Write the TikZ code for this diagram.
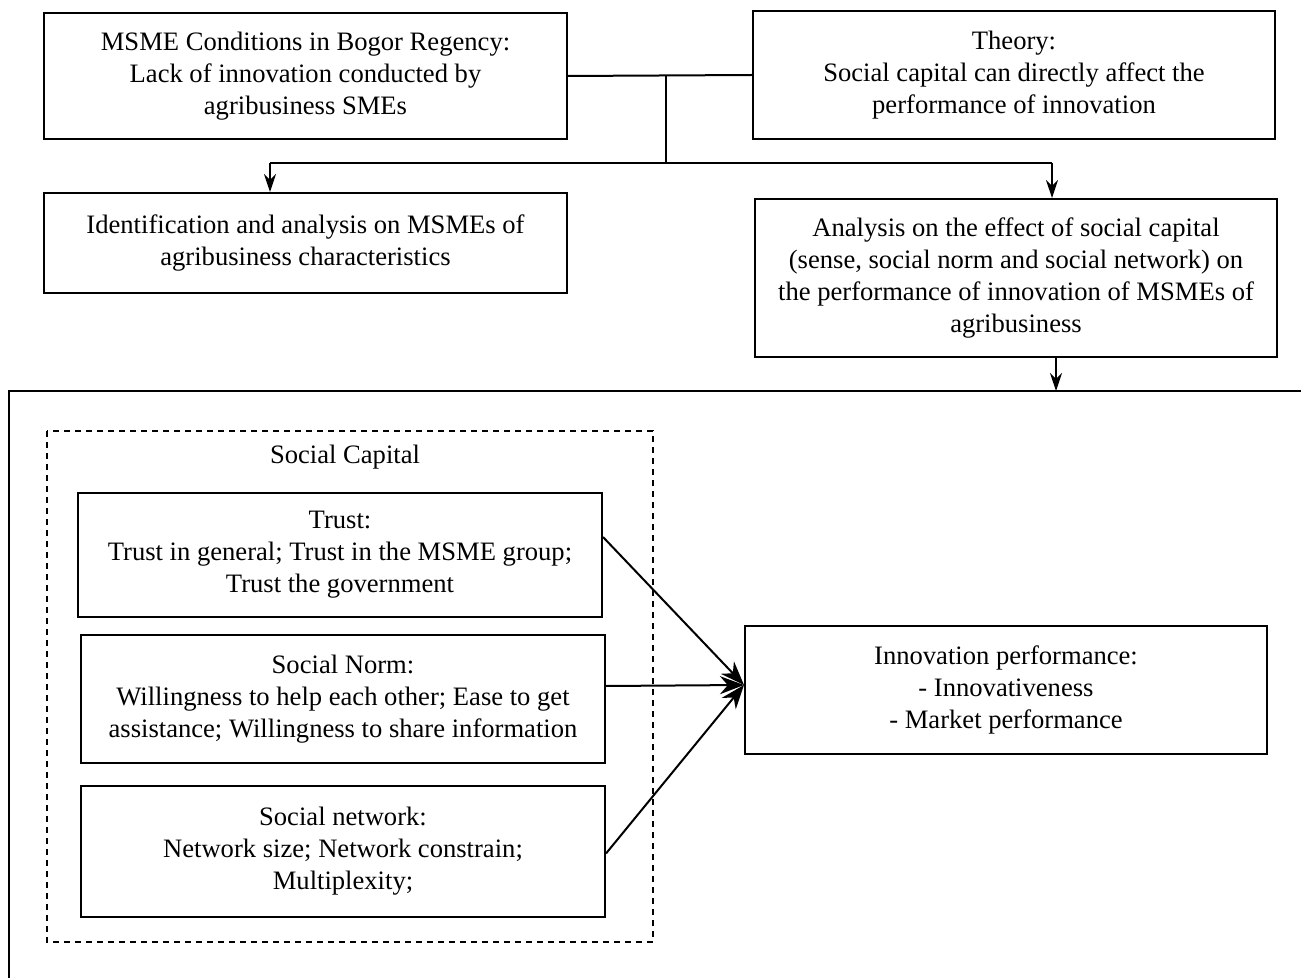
\documentclass[tikz,border=0pt]{standalone}
\usepackage{fontspec}
\setmainfont{Liberation Serif}
\usetikzlibrary{arrows.meta,calc}
\begin{document}
\begin{tikzpicture}[x=0.5pt,y=-0.5pt,
  box/.style={draw, line width=1pt, inner sep=0pt, align=center,
    font=\fontsize{13.3}{16}\selectfont},
  conn/.style={line width=1pt},
  smallarr/.style={line width=1pt, -{Stealth[length=9pt,width=6pt]}},
  bigarr/.style={line width=1pt, -{Stealth[length=12pt,width=9pt]}},
  dotbox/.style={draw, line width=1pt, dash pattern=on 3pt off 2.5pt},
  lbl/.style={font=\fontsize{13.3}{16}\selectfont, inner sep=0pt}]
\useasboundingbox (0,0) rectangle (1301,978);
% top boxes
\node[box, minimum width=261.5pt, minimum height=63pt] (m1) at (305.5,76)
  {MSME Conditions in Bogor Regency:\\Lack of innovation conducted by\\agribusiness SMEs};
\node[box, minimum width=261pt, minimum height=64pt] (theory) at (1014,75)
  {Theory:\\Social capital can directly affect the\\performance of innovation};
\node[box, minimum width=261.5pt, minimum height=50pt] (id) at (305.5,243)
  {Identification and analysis on MSMEs of\\agribusiness characteristics};
\node[box, minimum width=261pt, minimum height=79pt] (ana) at (1016,278)
  {Analysis on the effect of social capital\\(sense, social norm and social network) on\\the performance of innovation of MSMEs of\\agribusiness};
% connectors top
\coordinate (j1) at (666,76);
\coordinate (j2) at (666,163);
\coordinate (a1) at (270,163);
\coordinate (a2) at (1052,163);
\draw[conn] (m1.east) -- (theory.west);
\draw[conn] (j1) -- (j2);
\draw[conn] (a1) -- (a2);
\draw[smallarr] (a1) -- (a1 |- id.north);
\draw[smallarr] (a2) -- (a2 |- ana.north);
% big open frame
\coordinate (bt) at (1056,391);
\coordinate (fr) at (1301,391);
\coordinate (fl) at (9,391);
\coordinate (fb) at (9,978);
\draw[conn] (fr) -- (fl) -- (fb);
\draw[smallarr] (bt |- ana.south) -- (bt);
% social capital
\draw[dotbox] (47,431) rectangle (653,942);
\node[lbl] (sc) at (345,457) {Social Capital};
\node[box, minimum width=262pt, minimum height=62pt] (trust) at (340,555)
  {Trust:\\Trust in general; Trust in the MSME group;\\Trust the government};
\node[box, minimum width=262pt, minimum height=64pt] (norm) at (343,699)
  {Social Norm:\\Willingness to help each other; Ease to get\\assistance; Willingness to share information};
\node[box, minimum width=262pt, minimum height=65.5pt] (net) at (343,851.5)
  {Social network:\\Network size; Network constrain;\\Multiplexity;};
\node[box, minimum width=261pt, minimum height=64pt] (inno) at (1006,690)
  {Innovation performance:\\- Innovativeness\\- Market performance};
\coordinate (tg) at ([yshift=2.5pt]inno.west);
\draw[bigarr] ([yshift=9pt]trust.east) -- (tg);
\draw[bigarr] ([yshift=6.5pt]norm.east) -- (tg);
\draw[bigarr] ([yshift=-1pt]net.east) -- (tg);
\end{tikzpicture}
\end{document}
